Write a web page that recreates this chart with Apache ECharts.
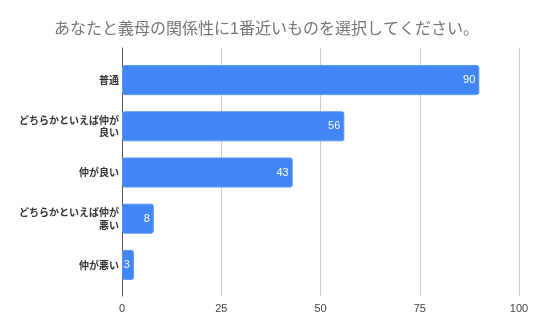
<!DOCTYPE html>
<html>
<head>
<meta charset="utf-8">
<script src="https://cdn.jsdelivr.net/npm/echarts@6/dist/echarts.min.js"></script>
<style>
  html, body { margin: 0; padding: 0; background: #fff; }
  #chart { width: 536px; height: 331px; }
</style>
</head>
<body>
<div id="chart"></div>
<script>
// Survey answers (top to bottom) and their counts
const categories = ['普通', 'どちらかといえば仲が良い', '仲が良い', 'どちらかといえば仲が悪い', '仲が悪い'];
const counts = [90, 56, 43, 8, 3];
const xTicks = [0, 25, 50, 75, 100];

const titleText = 'あなたと義母の関係性に1番近いものを選択してください。';
const FONT = '"Liberation Sans", Arial, "Noto Sans CJK JP", sans-serif';

// Break long answer labels after 10 characters
function wrapLabel(s) {
  return s.length > 10 ? s.slice(0, 10) + '\n' + s.slice(10) : s;
}

const chart = echarts.init(document.getElementById('chart'), null, { renderer: 'canvas' });

chart.setOption({
  animation: false,
  backgroundColor: '#ffffff',
  title: {
    text: titleText,
    left: 49,
    top: 17,
    textStyle: { fontFamily: FONT, fontSize: 16, fontWeight: 'normal', color: '#757575' }
  },
  grid: [
    // frame grid: gridlines, tick labels and the zero line
    { left: 122, right: 17, top: 48, bottom: 35, containLabel: false },
    // bar grid: category bands
    { left: 122, right: 17, top: 57, bottom: 43, containLabel: false }
  ],
  xAxis: [
    {
      gridIndex: 0, type: 'value', min: xTicks[0], max: xTicks[xTicks.length - 1], interval: 25,
      axisLine: { show: false }, axisTick: { show: false },
      splitLine: { show: true, lineStyle: { color: '#cccccc', width: 1 } },
      axisLabel: {
        margin: 7, color: '#444444', fontSize: 11, fontFamily: FONT,
        formatter: v => xTicks.includes(v) ? String(v) : ''
      }
    },
    {
      gridIndex: 1, type: 'value', min: xTicks[0], max: xTicks[xTicks.length - 1], interval: 25,
      show: false, splitLine: { show: false }
    }
  ],
  yAxis: [
    {
      gridIndex: 0, type: 'value', min: 0, max: 1,
      axisLine: { show: true, lineStyle: { color: '#555555', width: 1 } },
      axisTick: { show: false }, axisLabel: { show: false }, splitLine: { show: false }
    },
    {
      gridIndex: 1, type: 'category', data: categories, inverse: true,
      axisLine: { show: false }, axisTick: { show: false }, splitLine: { show: false },
      axisLabel: {
        margin: 3, color: '#333333', fontSize: 10, fontFamily: '"Noto Sans CJK JP", sans-serif',
        fontWeight: 'bold', lineHeight: 12.5, align: 'right', formatter: wrapLabel
      }
    }
  ],
  series: [{
    type: 'bar',
    xAxisIndex: 1,
    yAxisIndex: 1,
    data: counts,
    barCategoryGap: '35%',
    itemStyle: { color: '#4285f4', borderColor: '#5b96f6', borderWidth: 1, borderRadius: 2 },
    label: {
      show: true, position: 'insideRight', distance: 4,
      color: '#ffffff', fontSize: 11, fontFamily: FONT
    }
  }]
});
</script>
</body>
</html>
